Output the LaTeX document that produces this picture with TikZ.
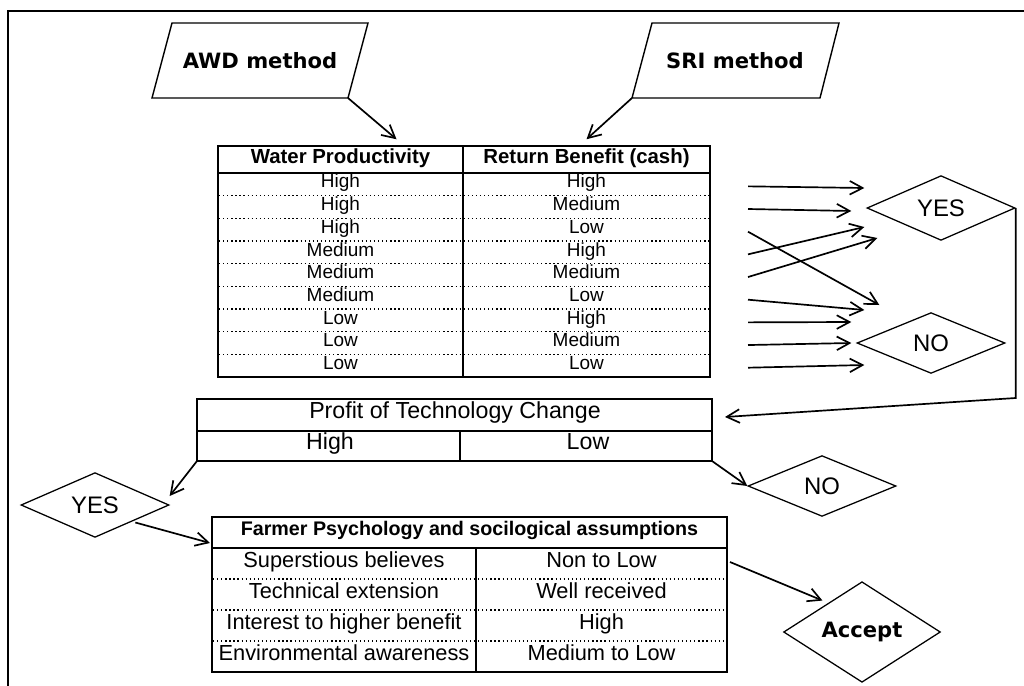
\documentclass[tikz,border=0pt]{standalone}
\usepackage{fontspec}
\setmainfont{Liberation Sans}
\newfontfamily\verd{DejaVu Sans}
\usetikzlibrary{arrows.meta,calc,shapes.geometric}

\begin{document}
\begin{tikzpicture}[x=0.025cm,y=-0.025cm,>={Straight Barb[length=3.2mm,width=3.4mm]},
    method/.style={font=\verd\bfseries\fontsize{15}{18}\selectfont},
    choice/.style={draw,diamond,line width=0.9pt,inner sep=0pt,minimum width=3.7cm,minimum height=1.52cm,font=\fontsize{17}{20}\selectfont},
    cell/.style={inner sep=0pt,text height=0.72em,text depth=0.2em,font=\fontsize{13.5}{16}\selectfont},
    bigcell/.style={cell,font=\fontsize{16.5}{19}\selectfont},
    midcell/.style={cell,font=\fontsize{15.5}{18}\selectfont},
    head/.style={cell,font=\bfseries\fontsize{14.5}{17}\selectfont},
    link/.style={->,line width=1.2pt}]
  \useasboundingbox (0,0) rectangle (1024,685);
  % frame
  \draw[line width=2pt] (1030,11) -- (8,11) -- (8,690);

  % input methods
  \draw[line width=1pt] (172,23) -- (368,23) -- (348,98) -- (152,98) -- cycle;
  \node[method] (awd) at (260,61) {AWD method};
  \coordinate (awdc) at (348,98);
  \draw[line width=1pt] (652,23) -- (839,23) -- (820,98) -- (632,98) -- cycle;
  \node[method] (sri) at (735,61) {SRI method};
  \coordinate (sric) at (632,98);

  % table of productivity and benefit
  \draw[line width=1.8pt] (218,146) rectangle (710,377);
  \draw[line width=1pt] (218,173) -- (710,173);
  \draw[line width=1pt] (463,146) -- (463,377);
  \foreach \k in {1,...,8}
    \draw[dotted,line width=0.9pt] (219,{173+\k*22.67}) -- (709,{173+\k*22.67});
  \node[head] (wphead) at (340.5,160) {Water Productivity};
  \node[head] (rbhead) at (586.5,160) {Return Benefit (cash)};
  \foreach \wp/\rb [count=\i] in {High/High,High/Medium,High/Low,Medium/High,Medium/Medium,Medium/Low,Low/High,Low/Medium,Low/Low} {
    \node[cell] (wp\i) at (340.5,{173+(\i-0.5)*22.67}) {\wp};
    \node[cell] (rb\i) at (586.5,{173+(\i-0.5)*22.67}) {\rb};
    \coordinate (s\i) at (748,{175+(\i-0.5)*22.67});
  }
  \draw[link] (awdc) -- ($(wphead.north)+(56,-14)$);
  \draw[link] (sric) -- ($(rbhead.north)+(0,-14)$);

  % decisions
  \node[choice] (yes) at (941,208) {YES};
  \node[choice] (no) at (931,343) {NO};
  \draw[link] (s1) -- ($(yes.west)+(-2,-20)$);
  \draw[link] (s2) -- ($(yes.west)+(-15,3)$);
  \draw[link] (s3) -- ($(no.west)+(23,-38)$);
  \draw[link] (s4) -- ($(yes.west)+(-2,19)$);
  \draw[link] (s5) -- ($(yes.west)+(11,30)$);
  \draw[link] (s6) -- ($(no.west)+(8,-33)$);
  \draw[link] (s7) -- ($(no.west)+(-5,-21)$);
  \draw[link] (s8) -- ($(no.west)+(-5,0)$);
  \draw[link] (s9) -- ($(no.west)+(8,22)$);

  % profit table
  \draw[line width=1.4pt] (197,399) rectangle (712,461);
  \draw[line width=1pt] (197,431) -- (712,431);
  \draw[line width=1pt] (460,431) -- (460,461);
  \node[bigcell] (profit) at (455,415) {Profit of Technology Change};
  \node[bigcell] (phigh) at (330,446) {High};
  \node[bigcell] (plow) at (588,446) {Low};
  \draw[link] (yes.east) -- ++(0,190) -- (725,417);

  \node[choice] (yes2) at (95,505) {YES};
  \node[choice] (no2) at (822,486) {NO};
  \draw[link] (197,461) -- ($(yes2.east)+(0,-9)$);
  \draw[link] (712,461) -- (no2.west);

  % farmer table
  \draw[line width=1.8pt] (212,517) rectangle (727,672);
  \draw[line width=1pt] (212,548) -- (727,548);
  \draw[line width=1pt] (476,548) -- (476,672);
  \foreach \k in {1,2,3}
    \draw[dotted,line width=0.9pt] (213,{548+\k*31}) -- (726,{548+\k*31});
  \node[head,font=\bfseries\fontsize{14}{17}\selectfont] (farmer) at (469.5,532) {Farmer Psychology and socilogical assumptions};
  \foreach \fa/\fb [count=\i] in {Superstious believes/Non to Low,Technical extension/Well received,Interest to higher benefit/High,Environmental awareness/Medium to Low} {
    \node[midcell] (fa\i) at (344,{548+(\i-0.5)*31}) {\fa};
    \node[midcell] (fb\i) at (601.5,{548+(\i-0.5)*31}) {\fb};
  }
  \draw[link] ($(yes2.south east)+(3,1)$) -- (210,543);

  \node[choice,minimum width=3.92cm,font=\verd\bfseries\fontsize{15}{18}\selectfont] (accept) at (862,632) {Accept};
  \draw[link] (730,562) -- ($(accept.north west)+(0,-6)$);
\end{tikzpicture}
\end{document}
